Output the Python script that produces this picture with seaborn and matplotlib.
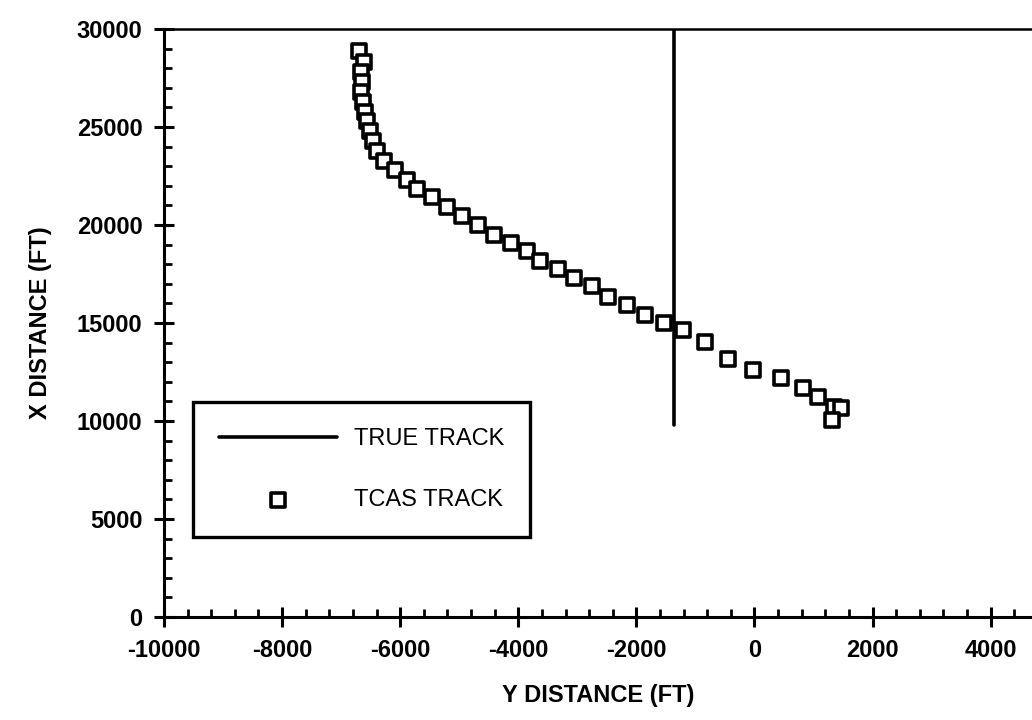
import matplotlib
matplotlib.use('Agg')
import matplotlib.pyplot as plt
import seaborn as sns
import pandas as pd
from matplotlib.ticker import MultipleLocator

# TCAS track (horizontal axis = Y distance, vertical axis = X distance), ft
tcas_y_dist = [-6695, -6610, -6660, -6645, -6660, -6627, -6593, -6559, -6508, -6458,
               -6390, -6271, -6085, -5881, -5712, -5458, -5203, -4949, -4678, -4407,
               -4119, -3847, -3627, -3322, -3051, -2746, -2475, -2153, -1847, -1525,
               -1203, -831, -441, -17, 441, 814, 1068, 1339, 1458, 1305]
tcas_x_dist = [28870, 28300, 27800, 27290, 26780, 26270, 25760, 25300, 24790, 24280,
               23770, 23260, 22800, 22290, 21830, 21420, 20910, 20450, 19990, 19480,
               19070, 18670, 18160, 17750, 17290, 16880, 16320, 15910, 15400, 14990,
               14640, 14030, 13160, 12600, 12190, 11680, 11220, 10710, 10650, 10050]

# true track: a straight vertical line
true_y_dist = [-1370, -1370]
true_x_dist = [9800, 30000]

x_major = [-10000, -8000, -6000, -4000, -2000, 0, 2000, 4000]
y_major = [0, 5000, 10000, 15000, 20000, 25000, 30000]

sns.set_theme(style='ticks')
plt.rcParams['font.family'] = ['Liberation Sans', 'DejaVu Sans']
plt.rcParams['axes.linewidth'] = 2.2
plt.rcParams['axes.unicode_minus'] = False

fig = plt.figure(figsize=(10.32, 7.2), dpi=100)
ax = fig.add_axes([164 / 1032, 103 / 720, 1 - 164 / 1032, 588 / 720])

true_df = pd.DataFrame({'y': true_y_dist, 'x': true_x_dist})
tcas_df = pd.DataFrame({'y': tcas_y_dist, 'x': tcas_x_dist})

sns.lineplot(data=true_df, x='y', y='x', orient='y', sort=False, estimator=None,
             color='black', linewidth=2.6, label='TRUE TRACK', ax=ax)
sns.scatterplot(data=tcas_df, x='y', y='x', marker='s', s=105, facecolor='white',
                edgecolor='black', linewidth=2.6, label='TCAS TRACK', ax=ax, zorder=3)

ax.set_xlim(-10000, 4700)
ax.set_ylim(0, 30000)
ax.set_xticks(x_major)
ax.set_yticks(y_major)
ax.xaxis.set_minor_locator(MultipleLocator(400))
ax.yaxis.set_minor_locator(MultipleLocator(1000))
ax.tick_params(which='major', direction='inout', length=15, width=2.2,
               labelsize=17, color='black', labelcolor='black')
ax.tick_params(axis='x', which='major', pad=8)
ax.tick_params(axis='y', which='major', pad=8)
ax.tick_params(which='minor', direction='in', length=6, width=2, color='black')
for lbl in ax.get_xticklabels() + ax.get_yticklabels():
    lbl.set_fontweight('bold')

ax.spines['right'].set_visible(False)
for s in ['left', 'bottom', 'top']:
    ax.spines[s].set_color('black')
ax.spines['top'].set_linewidth(1.8)

ax.set_xlabel('Y DISTANCE (FT)', fontsize=17, fontweight='bold', labelpad=16, color='black')
ax.set_ylabel('X DISTANCE (FT)', fontsize=17, fontweight='bold', labelpad=18, color='black')

leg = ax.legend(loc='upper left', bbox_to_anchor=(193 / 1032, 1 - 402 / 720),
                bbox_transform=fig.transFigure, borderaxespad=0, fancybox=False,
                frameon=True, edgecolor='black', framealpha=1, handlelength=5.0,
                handletextpad=0.7, borderpad=1.1, labelspacing=1.67,
                prop={'size': 17})
leg.get_frame().set_linewidth(2.4)
for t in leg.get_texts():
    t.set_color('black')

fig.savefig('out.png', dpi=100)
